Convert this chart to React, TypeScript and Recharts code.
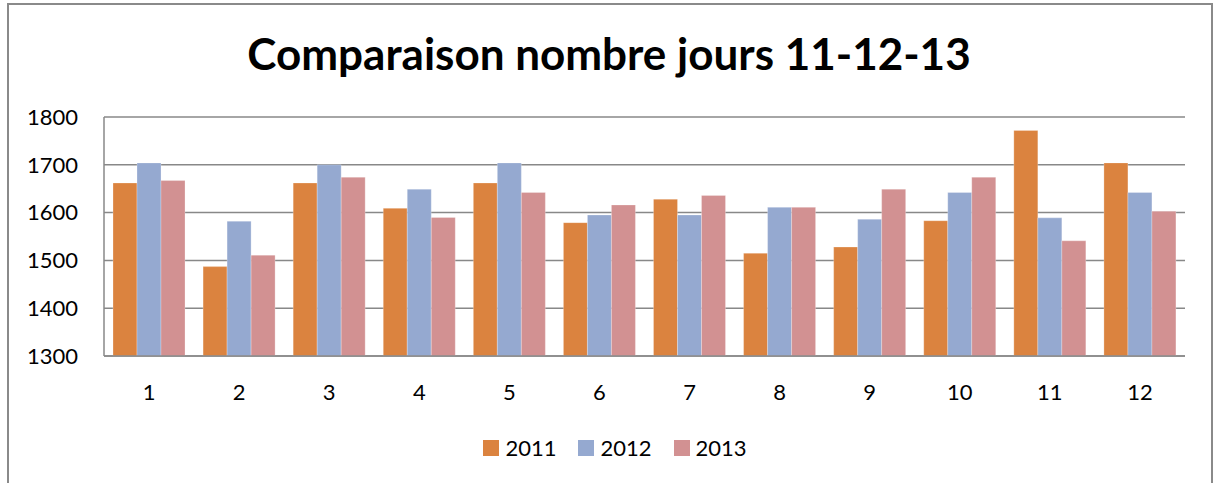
import { BarChart, Bar, XAxis, YAxis, CartesianGrid, Legend } from 'recharts';

const months = ['1', '2', '3', '4', '5', '6', '7', '8', '9', '10', '11', '12'];
const days2011 = [1662, 1487, 1662, 1609, 1662, 1579, 1628, 1515, 1528, 1583, 1772, 1704];
const days2012 = [1704, 1582, 1700, 1649, 1704, 1595, 1595, 1611, 1586, 1642, 1589, 1642];
const days2013 = [1667, 1511, 1674, 1590, 1642, 1616, 1636, 1611, 1649, 1674, 1541, 1603];
const yTicks = [1300, 1400, 1500, 1600, 1700, 1800];

const series = [
  { key: 'y2011', name: '2011', color: '#DB833F' },
  { key: 'y2012', name: '2012', color: '#95A9D0' },
  { key: 'y2013', name: '2013', color: '#D29192' },
];

const data = months.map((m, i) => ({
  month: m,
  y2011: days2011[i],
  y2012: days2012[i],
  y2013: days2013[i],
}));

const FONT = 'Lato, "Open Sans", sans-serif';

function LegendContent() {
  return (
    <div style={{ display: 'flex', justifyContent: 'center', fontFamily: FONT, fontSize: 22, color: '#000', lineHeight: '28px' }}>
      {series.map((s, i) => (
        <div key={s.key} style={{ display: 'flex', alignItems: 'center', marginRight: i < series.length - 1 ? 22 : 0 }}>
          <span style={{ width: 16, height: 16, background: s.color, display: 'inline-block', marginRight: 6 }} />
          <span>{s.name}</span>
        </div>
      ))}
    </div>
  );
}

export default function App() {
  return (
    <div style={{ position: 'absolute', left: 0, top: 0, width: 1218, height: 483, background: '#fff' }}>
      <div
        style={{
          position: 'absolute', left: 7, top: 3, width: 1206, height: 490,
          border: '2px solid #8a8a8a', boxSizing: 'border-box',
        }}
      />
      <div
        style={{
          position: 'absolute', left: 0, top: 23, width: 1218, textAlign: 'center',
          fontFamily: FONT, fontWeight: 700, fontSize: 44, lineHeight: '60px', color: '#000',
        }}
      >
        Comparaison nombre jours 11-12-13
      </div>
      <BarChart
        width={1218}
        height={483}
        data={data}
        margin={{ top: 117, right: 33, left: 0, bottom: 59 }}
        barCategoryGap="10%"
        barGap={0}
        style={{ position: 'absolute', left: 0, top: 0 }}
      >
        <CartesianGrid vertical={false} stroke="#888888" strokeWidth={1.5} />
        <XAxis
          dataKey="month"
          height={40}
          tickLine={false}
          axisLine={{ stroke: '#888888', strokeWidth: 1.5 }}
          tick={{ fill: '#000', fontSize: 22, fontFamily: FONT }}
          tickMargin={22}
        />
        <YAxis
          width={104}
          domain={[1300, 1800]}
          ticks={yTicks}
          tickLine={false}
          tickSize={0}
          tickMargin={26}
          axisLine={{ stroke: '#888888', strokeWidth: 1.5 }}
          tick={{ fill: '#000', fontSize: 22, fontFamily: FONT }}
        />
        <Legend
          content={<LegendContent />}
          wrapperStyle={{ position: 'absolute', top: 434, left: 0, width: 1230 }}
        />
        {series.map(s => (
          <Bar
            key={s.key}
            dataKey={s.key}
            name={s.name}
            fill={s.color}
            stroke="#ffffff"
            strokeOpacity={0.5}
            strokeWidth={0.5}
            isAnimationActive={false}
          />
        ))}
      </BarChart>
    </div>
  );
}
